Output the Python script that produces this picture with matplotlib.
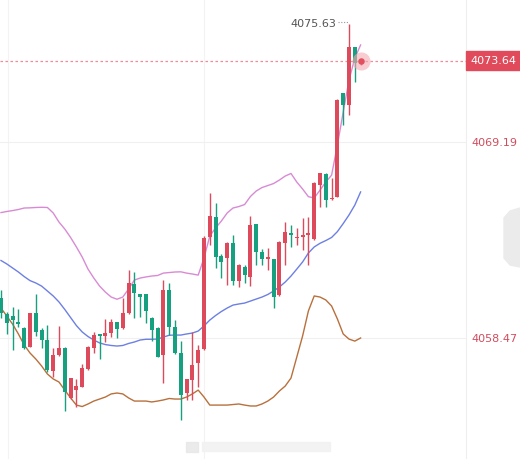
import matplotlib
matplotlib.use('Agg')
import matplotlib.pyplot as plt
import matplotlib.transforms as mtransforms
from matplotlib.patches import Rectangle, Polygon

plt.rcParams['font.family'] = ['DejaVu Sans']

# 分钟K线 (开, 收, 高, 低)
opens = [4060.64, 4059.78, 4059.67, 4059.36, 4059.00, 4057.99, 4059.82, 4058.91, 4058.36, 4056.68,
         4057.54, 4057.91, 4055.17, 4055.62, 4055.80, 4056.77, 4057.91, 4058.67, 4058.58, 4058.73,
         4059.33, 4059.00, 4059.85, 4061.41, 4060.86, 4060.86, 4059.56, 4059.00, 4057.54, 4061.09,
         4059.09, 4057.63, 4055.44, 4056.17, 4057.09, 4057.85, 4064.01, 4065.07, 4062.95, 4062.85,
         4063.65, 4061.60, 4062.37, 4061.82, 4064.70, 4063.19, 4062.81, 4062.77, 4060.82, 4063.68,
         4064.20, 4063.92, 4063.99, 4064.10, 4063.87, 4066.84, 4067.44, 4066.06, 4066.20, 4071.85,
         4071.21, 4074.37, 4073.60]
closes = [4059.82, 4059.31, 4059.45, 4059.23, 4057.91, 4059.82, 4058.81, 4058.36, 4056.72, 4057.54,
          4057.91, 4055.53, 4056.26, 4055.84, 4056.81, 4057.99, 4058.63, 4058.58, 4058.73, 4059.36,
          4058.94, 4059.82, 4061.49, 4060.91, 4060.73, 4059.96, 4058.91, 4057.45, 4061.09, 4059.09,
          4057.63, 4055.35, 4056.21, 4056.99, 4057.81, 4063.92, 4065.14, 4062.88, 4062.60, 4063.64,
          4061.60, 4062.46, 4061.91, 4064.65, 4063.19, 4062.77, 4062.88, 4060.73, 4063.74, 4064.25,
          4064.09, 4064.01, 4064.10, 4064.20, 4066.93, 4067.48, 4066.02, 4066.14, 4071.49, 4071.21,
          4074.37, 4073.50, 4073.64]
highs = [4061.09, 4059.91, 4060.18, 4060.04, 4059.09, 4059.85, 4060.88, 4059.00, 4059.18, 4057.91,
         4059.13, 4057.95, 4056.30, 4056.21, 4057.05, 4058.02, 4058.81, 4058.70, 4059.49, 4059.49,
         4059.36, 4060.64, 4062.19, 4062.06, 4060.88, 4060.88, 4059.63, 4059.09, 4061.64, 4061.46,
         4059.45, 4058.32, 4056.24, 4058.81, 4058.09, 4064.05, 4066.40, 4065.84, 4063.06, 4063.74,
         4064.10, 4062.52, 4062.46, 4065.14, 4064.73, 4063.32, 4063.38, 4062.80, 4063.77, 4064.83,
         4064.65, 4064.47, 4065.02, 4065.10, 4067.02, 4067.52, 4067.47, 4067.20, 4071.52, 4071.88,
         4075.63, 4074.40, 4073.70]
lows = [4059.56, 4058.69, 4057.81, 4059.09, 4057.85, 4057.95, 4058.58, 4057.91, 4056.63, 4056.32,
        4057.50, 4054.49, 4055.12, 4054.68, 4055.78, 4056.74, 4057.63, 4057.30, 4058.27, 4058.54,
        4058.45, 4058.97, 4059.80, 4059.55, 4059.63, 4059.29, 4058.30, 4057.42, 4055.99, 4058.63,
        4057.60, 4053.98, 4055.08, 4055.08, 4055.80, 4057.82, 4063.56, 4062.28, 4061.73, 4061.37,
        4061.37, 4061.24, 4061.46, 4061.31, 4062.46, 4062.46, 4062.19, 4060.09, 4060.79, 4062.46,
        4063.46, 4063.56, 4063.28, 4062.46, 4063.84, 4065.65, 4065.62, 4066.02, 4066.17, 4070.12,
        4070.67, 4072.49, 4073.40]

# 布林带
boll_up = [4065.33, 4065.39, 4065.44, 4065.50, 4065.58, 4065.59, 4065.61, 4065.62, 4065.61, 4065.31,
           4064.81, 4064.43, 4063.97, 4063.45, 4062.90, 4062.24, 4061.75, 4061.31, 4060.98, 4060.71,
           4060.59, 4060.71, 4061.15, 4061.64, 4061.75, 4061.81, 4061.86, 4061.89, 4062.02, 4062.05,
           4062.08, 4062.09, 4062.02, 4061.97, 4061.91, 4062.84, 4064.05, 4064.49, 4064.87, 4065.31,
           4065.58, 4065.66, 4065.77, 4066.21, 4066.51, 4066.70, 4066.81, 4066.92, 4067.11, 4067.33,
           4067.47, 4067.00, 4066.62, 4066.20, 4066.13, 4066.56, 4067.00, 4067.38, 4069.03, 4070.83,
           4072.58, 4073.78, 4074.50]
boll_mid = [4062.71, 4062.52, 4062.30, 4062.08, 4061.83, 4061.61, 4061.48, 4061.31, 4061.04, 4060.77,
            4060.44, 4060.03, 4059.59, 4059.15, 4058.80, 4058.55, 4058.36, 4058.20, 4058.11, 4058.06,
            4058.03, 4058.06, 4058.17, 4058.25, 4058.36, 4058.40, 4058.40, 4058.41, 4058.52, 4058.62,
            4058.63, 4058.63, 4058.69, 4058.74, 4058.85, 4059.13, 4059.45, 4059.70, 4059.92, 4060.11,
            4060.27, 4060.33, 4060.38, 4060.49, 4060.60, 4060.71, 4060.85, 4061.04, 4061.26, 4061.53,
            4061.86, 4062.24, 4062.63, 4063.12, 4063.45, 4063.65, 4063.80, 4063.97, 4064.29, 4064.73,
            4065.20, 4065.74, 4066.46]
boll_low = [4060.11, 4059.67, 4059.23, 4058.69, 4058.09, 4057.65, 4057.32, 4056.94, 4056.50, 4056.23,
            4056.06, 4055.62, 4055.19, 4054.80, 4054.72, 4054.86, 4055.02, 4055.13, 4055.24, 4055.41,
            4055.46, 4055.41, 4055.19, 4055.02, 4055.02, 4055.02, 4054.97, 4055.02, 4055.08, 4055.16,
            4055.13, 4055.13, 4055.24, 4055.41, 4055.62, 4055.24, 4054.80, 4054.80, 4054.80, 4054.80,
            4054.83, 4054.86, 4054.80, 4054.75, 4054.75, 4054.86, 4055.02, 4055.24, 4055.57, 4055.84,
            4056.28, 4057.43, 4058.58, 4059.95, 4060.77, 4060.71, 4060.55, 4060.22, 4059.51, 4058.69,
            4058.41, 4058.30, 4058.47]

y_ticks = [4058.47, 4069.19]
last_price = 4073.64
high_price = 4075.63

RED = '#dc4a5b'
GREEN = '#16a07f'

fig = plt.figure(figsize=(5.2, 4.59), dpi=100)
ax = fig.add_axes([0, 0, 466 / 520, 1])
ax.set_xlim(-0.17, 80.17)
ax.set_ylim(4051.85, 4076.96)

for s in ['top', 'left', 'bottom']:
    ax.spines[s].set_visible(False)
ax.spines['right'].set_color('#eeeeee')
ax.set_xticks([])
ax.yaxis.tick_right()
ax.set_yticks(y_ticks)
ax.set_yticklabels(['%.2f' % v for v in y_ticks])
ax.tick_params(axis='y', length=0, pad=4, labelsize=8, labelcolor='#d04d5e')
ax.grid(axis='y', color='#f0f0f0', lw=0.8)
for gx in [1.2, 35.0]:
    ax.axvline(gx, color='#f3f3f3', lw=0.8, zorder=0)

x = list(range(len(opens)))
ax.plot(x, boll_up, color='#d88bd4', lw=1, zorder=2)
ax.plot(x, boll_mid, color='#6d80e2', lw=1, zorder=2)
ax.plot(x, boll_low, color='#b8703d', lw=1, zorder=2)

for i in x:
    o, c, h, l = opens[i], closes[i], highs[i], lows[i]
    col = RED if c >= o else GREEN
    ax.vlines(i, l, h, color=col, lw=1, zorder=3)
    ax.bar(i, max(abs(c - o), 0.05), bottom=min(o, c), width=0.7, color=col, zorder=3)

# 最新价
ax.axhline(last_price, color='#ec8d99', lw=0.9, ls=(0, (2, 2)), zorder=1)
ax.scatter([len(opens) - 1], [last_price], s=170, color='#f4aab2', alpha=0.6, lw=0, zorder=4)
ax.scatter([len(opens) - 1], [last_price], s=22, color='#e0505f', lw=0, zorder=5)

# 最高价标注
ax.text(57.8, high_price, '%.2f' % high_price, ha='right', va='center', fontsize=8, color='#555555')
ax.plot([58.1, 59.8], [high_price + 0.1, high_price + 0.1], color='#999999', lw=0.8, ls=(0, (1, 1.5)))

# 右侧价格框
trans = mtransforms.blended_transform_factory(fig.transFigure, ax.transData)
fig.patches.append(Rectangle((466 / 520, last_price - 0.52), 54 / 520, 1.04,
                             transform=trans, color='#e04a5a', zorder=5))
fig.text(493 / 520, last_price, '%.2f' % last_price, transform=trans, ha='center', va='center',
         fontsize=8, color='white', zorder=6)

# 右侧收起按钮
pts = [(520, 208), (510, 211), (504, 218), (504, 258), (510, 265), (520, 267)]
fig.patches.append(Polygon([(px / 520, 1 - py / 459) for px, py in pts], closed=True,
                           transform=fig.transFigure, color='#ebebeb', zorder=5))
fig.text(512 / 520, 1 - 239 / 459, '>', ha='center', va='center', fontsize=9, color='#666666')

# 底部水印
fig.patches.append(Rectangle((186 / 520, 1 - 452 / 459), 12 / 520, 10 / 459,
                             transform=fig.transFigure, color='#e6e6e6', alpha=0.8))
fig.patches.append(Rectangle((202 / 520, 1 - 451 / 459), 128 / 520, 9 / 459,
                             transform=fig.transFigure, color='#f2f2f2', alpha=0.9))

fig.savefig('out.png', dpi=100)
